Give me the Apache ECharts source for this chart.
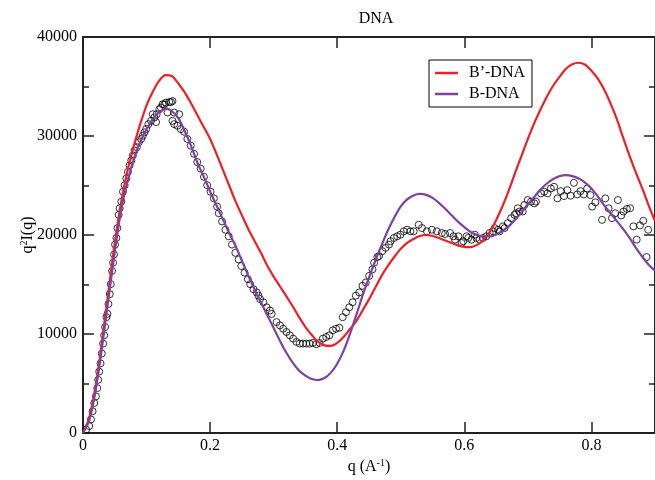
<!DOCTYPE html>
<html>
<head>
<meta charset="utf-8">
<script src="https://cdn.jsdelivr.net/npm/echarts@6/dist/echarts.min.js"></script>
<style>
  html, body { margin: 0; padding: 0; background: #fff; }
  #chart { width: 655px; height: 480px; }
</style>
</head>
<body>
<div id="chart"></div>
<script>
// Axis ticks
const qTicks = [0, 0.2, 0.4, 0.6, 0.8];
const intensityTicks = [0, 10000, 20000, 30000, 40000];

// Model curve: B'-DNA  [q, q^2 I(q)]
const bPrimeDna = [
  [0,0],[0.01,1600],[0.02,4800],[0.03,9300],[0.04,14300],[0.05,19200],[0.06,23300],
  [0.07,26500],[0.08,29000],[0.09,31200],[0.10,33100],[0.11,34500],[0.12,35600],
  [0.13,36150],[0.14,36050],[0.15,35300],[0.16,34400],[0.17,33300],[0.18,32100],
  [0.19,30900],[0.20,29700],[0.21,28200],[0.22,26600],[0.23,25000],[0.24,23400],
  [0.25,22000],[0.26,20600],[0.27,19400],[0.28,18200],[0.29,16900],[0.30,15800],
  [0.31,14800],[0.32,13800],[0.33,12800],[0.34,11700],[0.35,10700],[0.36,9900],
  [0.37,9200],[0.38,8850],[0.39,8800],[0.40,9100],[0.41,9700],[0.42,10500],
  [0.43,11300],[0.44,12400],[0.45,13500],[0.46,14700],[0.47,15900],[0.48,16900],
  [0.49,17800],[0.50,18600],[0.51,19200],[0.52,19600],[0.53,19900],[0.54,20000],
  [0.55,19900],[0.56,19700],[0.57,19450],[0.58,19200],[0.59,18950],[0.60,18800],
  [0.61,18780],[0.62,19000],[0.63,19500],[0.64,20300],[0.65,21500],[0.66,22900],
  [0.67,24500],[0.68,26300],[0.69,28000],[0.70,29700],[0.71,31300],[0.72,32700],
  [0.73,34000],[0.74,35100],[0.75,36000],[0.76,36800],[0.77,37250],[0.78,37400],
  [0.79,37200],[0.80,36600],[0.81,35800],[0.82,34700],[0.83,33300],[0.84,31700],
  [0.85,29800],[0.86,28000],[0.87,26300],[0.88,24700],[0.89,23000],[0.90,21400]
];

// Model curve: B-DNA
const bDna = [
  [0,0],[0.01,1300],[0.02,4300],[0.03,8700],[0.04,13500],[0.05,18300],[0.06,22500],
  [0.07,25400],[0.08,27700],[0.09,29400],[0.10,30700],[0.11,31700],[0.12,32400],
  [0.13,32800],[0.14,32500],[0.15,31800],[0.16,30500],[0.17,29000],[0.18,27300],
  [0.19,25900],[0.20,24400],[0.21,23000],[0.22,21600],[0.23,20200],[0.24,18900],
  [0.25,17400],[0.26,15900],[0.27,14500],[0.28,13200],[0.29,11900],[0.30,10600],
  [0.31,9300],[0.32,8100],[0.33,7100],[0.34,6300],[0.35,5800],[0.36,5450],
  [0.37,5350],[0.38,5550],[0.39,6100],[0.40,7000],[0.41,8300],[0.42,10000],
  [0.43,11900],[0.44,13900],[0.45,15700],[0.46,17400],[0.47,19000],[0.48,20500],
  [0.49,21800],[0.50,22900],[0.51,23600],[0.52,24000],[0.53,24150],[0.54,24050],
  [0.55,23750],[0.56,23250],[0.57,22650],[0.58,22000],[0.59,21350],[0.60,20800],
  [0.61,20300],[0.62,20000],[0.63,19850],[0.64,19850],[0.65,20050],[0.66,20400],
  [0.67,20900],[0.68,21550],[0.69,22300],[0.70,23100],[0.71,23850],[0.72,24600],
  [0.73,25200],[0.74,25650],[0.75,25950],[0.76,26050],[0.77,25950],[0.78,25700],
  [0.79,25300],[0.80,24700],[0.81,23900],[0.82,23000],[0.83,22200],[0.84,21400],
  [0.85,20600],[0.86,19700],[0.87,18700],[0.88,17800],[0.89,17000],[0.90,16400]
];

// Measured scattering profile
const measured = [
  [0.005,350],[0.0099,700],[0.0125,1370],[0.0151,2200],[0.0177,3030],[0.0203,3700],
  [0.0224,4530],[0.0239,5370],[0.0255,6200],[0.0276,7030],[0.0296,8030],[0.0317,9030],
  [0.0333,9870],[0.0348,10700],[0.0369,11700],[0.0385,12030],[0.0400,13030],[0.0421,14030],
  [0.0437,15030],[0.0457,16370],[0.0473,17200],[0.0488,18030],[0.0504,19030],[0.0525,19700],
  [0.0541,20700],[0.0561,22030],[0.0577,22700],[0.0603,23370],[0.0629,24370],[0.0655,25030],
  [0.0681,25700],[0.0707,26370],[0.0733,27030],[0.0759,27530],[0.0785,28030],[0.0811,28530],
  [0.0847,28870],[0.0878,29370],[0.0915,29700],[0.0941,30030],[0.0967,30370],[0.0993,30700],
  [0.1029,31200],[0.1071,31530],[0.1097,32200],[0.1123,31870],[0.1150,31400],[0.1159,32200],
  [0.1200,32700],[0.1227,32870],[0.1252,33200],[0.1279,33200],[0.1305,33370],[0.1330,32370],
  [0.1357,33430],[0.1383,33430],[0.1408,33530],[0.1408,31530],[0.1435,32370],[0.1435,31200],
  [0.1486,31030],[0.1513,32200],[0.1539,30700],[0.1591,30430],[0.1642,29700],[0.1695,29030],
  [0.1747,28200],[0.1798,27370],[0.1851,26700],[0.1903,25870],[0.1954,25030],[0.2007,24370],
  [0.2059,23700],[0.2110,22870],[0.2136,22200],[0.2188,21370],[0.2241,20530],[0.2292,19870],
  [0.2344,19030],[0.2397,18200],[0.2448,17530],[0.2490,16870],[0.2542,16200],[0.2594,15530],
  [0.2630,15030],[0.2682,14530],[0.2734,14200],[0.2760,13870],[0.2786,13530],[0.2838,13200],
  [0.2890,12700],[0.2942,12370],[0.2968,12030],[0.3046,11200],[0.3099,10870],[0.3150,10530],
  [0.3202,10200],[0.3254,9870],[0.3306,9530],[0.3358,9200],[0.3410,9030],[0.3462,9030],
  [0.3513,9030],[0.3566,9030],[0.3618,9100],[0.3670,8970],[0.3722,9100],[0.3774,9530],
  [0.3826,9700],[0.3878,9870],[0.3930,10370],[0.3982,10530],[0.4034,10630],[0.4086,11700],
  [0.4138,12200],[0.4190,12700],[0.4242,13200],[0.4293,13870],[0.4346,14200],[0.4398,14870],
  [0.4450,15200],[0.4502,15870],[0.4554,16530],[0.4580,17200],[0.4632,17770],[0.4658,17870],
  [0.4710,18370],[0.4761,18700],[0.4814,19030],[0.4839,19370],[0.4891,19700],[0.4943,19870],
  [0.4995,20030],[0.5047,20370],[0.5099,20530],[0.5151,20370],[0.5203,20370],[0.5282,21030],
  [0.5333,20700],[0.5411,20370],[0.5489,20530],[0.5567,20370],[0.5645,20200],[0.5697,20100],
  [0.5775,20200],[0.5828,19870],[0.5853,19530],[0.5906,19870],[0.5957,19200],[0.5984,19370],
  [0.6035,19870],[0.6062,19700],[0.6113,19530],[0.6165,20030],[0.6191,19700],[0.6243,19530],
  [0.6295,19700],[0.6347,19870],[0.6399,20200],[0.6451,20370],[0.6477,20700],[0.6529,20530],
  [0.6555,20370],[0.6607,20870],[0.6633,20700],[0.6685,21200],[0.6737,21700],[0.6789,22030],
  [0.6815,22200],[0.6841,22700],[0.6867,22370],[0.6919,22370],[0.6945,23030],[0.6997,23530],
  [0.7049,23370],[0.7101,23200],[0.7127,23370],[0.7205,24200],[0.7256,24370],[0.7309,24200],
  [0.7361,24700],[0.7412,24870],[0.7465,23700],[0.7517,24430],[0.7568,23930],[0.7621,24530],
  [0.7673,23970],[0.7724,25270],[0.7777,24100],[0.7828,24430],[0.7880,24100],[0.7933,24700],
  [0.7984,24030],[0.8011,22870],[0.8062,23300],[0.8167,21530],[0.8218,23700],[0.8270,22700],
  [0.8323,21700],[0.8374,22200],[0.8416,23530],[0.8468,21970],[0.8504,22370],[0.8557,22630],
  [0.8608,22700],[0.8660,20870],[0.8712,19530],[0.8764,20970],[0.8815,21430],[0.8867,17770],
  [0.8893,20530]
];

const serif = 'Liberation Serif';
const axisColor = '#222';
const red = '#ee2026';
const purple = '#7e42a2';

const qMin = qTicks[0];
const qStep = qTicks[1] - qTicks[0];
const iMin = intensityTicks[0];
const iStep = intensityTicks[1] - intensityTicks[0];
const iMax = intensityTicks[intensityTicks.length - 1];

const frameLine = { show: true, onZero: false, lineStyle: { color: axisColor, width: 2 } };
const majorTick = { show: true, inside: true, length: 11, lineStyle: { color: axisColor, width: 1.5 } };
const minorTick = { show: true, splitNumber: 2, length: 6, lineStyle: { color: axisColor, width: 1.5 } };

const chart = echarts.init(document.getElementById('chart'), null, { renderer: 'canvas' });
chart.setOption({
  animation: false,
  backgroundColor: '#fff',
  title: {
    text: 'DNA',
    left: 371, top: 6, textAlign: 'center',
    textStyle: { fontFamily: serif, fontSize: 16, fontWeight: 'normal', color: '#000' }
  },
  legend: {
    left: 429, top: 60,
    orient: 'vertical',
    data: ['B\u2019-DNA', 'B-DNA'],
    icon: 'rect',
    borderColor: '#000', borderWidth: 1, borderRadius: 0,
    padding: [5, 7, 5, 6],
    itemGap: 5,
    itemWidth: 23, itemHeight: 2.5,
    textStyle: { fontFamily: serif, fontSize: 16, color: '#000', padding: [0, 0, 0, 6] }
  },
  grid: { left: 83, right: -5, top: 37, bottom: 43, containLabel: false },
  xAxis: [
    {
      type: 'value', min: qMin, max: 0.9, interval: qStep,
      position: 'bottom',
      name: '{t|q (A}{s|-1}{t|)}',
      nameLocation: 'middle', nameGap: 25,
      nameMoveOverlap: false,
      nameTextStyle: {
        rich: {
          t: { fontFamily: serif, fontSize: 16, color: '#000' },
          s: { fontFamily: serif, fontSize: 10, color: '#000', verticalAlign: 'top', padding: [0, 0, 8, 0] }
        }
      },
      axisLine: frameLine,
      axisTick: majorTick,
      axisLabel: { show: true, fontFamily: serif, fontSize: 16, color: '#000', margin: 5, showMaxLabel: false },
      splitLine: { show: false }
    },
    {
      type: 'value', min: qMin, max: 0.9, interval: qStep,
      position: 'top',
      axisLine: frameLine,
      axisTick: majorTick,
      axisLabel: { show: false },
      splitLine: { show: false }
    }
  ],
  yAxis: [
    {
      type: 'value', min: iMin, max: iMax, interval: iStep,
      position: 'left',
      name: '{t|q}{s|2}{t|I(q)}',
      nameLocation: 'middle', nameGap: 46, nameRotate: 90,
      nameMoveOverlap: false,
      nameTextStyle: {
        rich: {
          t: { fontFamily: serif, fontSize: 16, color: '#000' },
          s: { fontFamily: serif, fontSize: 10, color: '#000', verticalAlign: 'top', padding: [0, 0, 8, 0] }
        }
      },
      axisLine: frameLine,
      axisTick: majorTick,
      minorTick: minorTick,
      axisLabel: {
        show: true, fontFamily: serif, fontSize: 16, color: '#000', margin: 6,
        formatter: v => String(v)
      },
      splitLine: { show: false }
    },
    {
      type: 'value', min: iMin, max: iMax, interval: iStep,
      position: 'right',
      axisLine: frameLine,
      axisTick: majorTick,
      minorTick: minorTick,
      axisLabel: { show: false },
      splitLine: { show: false }
    }
  ],
  series: [
    {
      name: 'measured',
      type: 'scatter',
      data: measured,
      symbol: 'circle',
      symbolSize: 7,
      itemStyle: { color: 'rgba(255,255,255,0)', borderColor: '#000', borderWidth: 1 },
      z: 2
    },
    {
      name: 'B\u2019-DNA',
      type: 'line',
      data: bPrimeDna,
      smooth: 0.3,
      symbol: 'none',
      lineStyle: { color: red, width: 2.2 },
      itemStyle: { color: red },
      z: 3
    },
    {
      name: 'B-DNA',
      type: 'line',
      data: bDna,
      smooth: 0.3,
      symbol: 'none',
      lineStyle: { color: purple, width: 2.2 },
      itemStyle: { color: purple },
      z: 3
    }
  ]
});
</script>
</body>
</html>
